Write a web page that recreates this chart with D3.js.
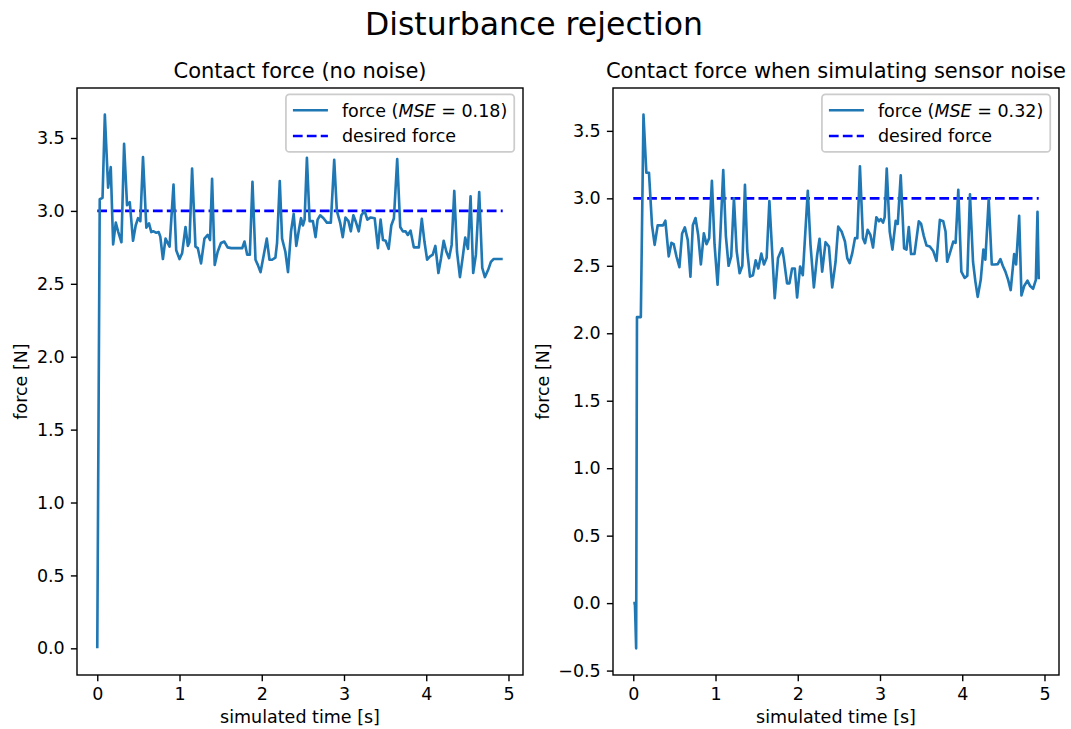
<!DOCTYPE html>
<html>
<head>
<meta charset="utf-8">
<script src="https://cdn.jsdelivr.net/npm/d3@7"></script>
<style>
  body { margin: 0; background: #fff; }
  svg text { font-family: "DejaVu Sans", sans-serif; fill: #000; }
</style>
</head>
<body>
<svg id="chart" width="1071" height="729"></svg>
<script>
// ---- measured contact force, controller without sensor noise ----
const timeNoNoise = [
  0, 0.03, 0.064, 0.092, 0.132, 0.164, 0.193, 0.225, 0.253, 0.294,
  0.326, 0.362, 0.395, 0.435, 0.467, 0.496, 0.524, 0.556, 0.597, 0.629,
  0.657, 0.685, 0.718, 0.746, 0.766, 0.798, 0.83, 0.879, 0.927, 0.96,
  1.0, 1.032, 1.073, 1.101, 1.121, 1.153, 1.194, 1.222, 1.262, 1.303,
  1.343, 1.371, 1.396, 1.428, 1.464, 1.504, 1.545, 1.585, 1.63, 1.763,
  1.79, 1.823, 1.855, 1.887, 1.924, 1.952, 1.985, 2.025, 2.061, 2.094,
  2.126, 2.166, 2.186, 2.219, 2.247, 2.287, 2.319, 2.356, 2.388, 2.42,
  2.449, 2.477, 2.501, 2.521, 2.549, 2.582, 2.622, 2.654, 2.679, 2.711,
  2.751, 2.792, 2.84, 2.881, 2.913, 2.953, 2.985, 3.018, 3.054, 3.083,
  3.114, 3.147, 3.179, 3.211, 3.25, 3.284, 3.325, 3.373, 3.413, 3.445,
  3.474, 3.506, 3.543, 3.575, 3.607, 3.647, 3.684, 3.716, 3.748, 3.776,
  3.809, 3.849, 3.91, 3.946, 3.978, 4.011, 4.043, 4.079, 4.111, 4.148,
  4.18, 4.212, 4.245, 4.277, 4.309, 4.341, 4.374, 4.41, 4.442, 4.474,
  4.507, 4.539, 4.571, 4.604, 4.644, 4.681, 4.713, 4.753, 4.786, 4.818,
  4.866, 4.93
];
const forceNoNoise = [
  0, 3.08, 3.09, 3.66, 3.16, 3.30, 2.77, 2.92, 2.86, 2.785,
  3.46, 3.04, 3.06, 2.795, 2.90, 2.95, 2.93, 3.37, 2.885, 2.915,
  2.855, 2.86, 2.85, 2.855, 2.825, 2.67, 2.81, 2.755, 3.18, 2.73,
  2.67, 2.71, 2.89, 2.76, 2.785, 3.29, 2.755, 2.745, 2.64, 2.81,
  2.835, 2.80, 3.22, 2.63, 2.72, 2.78, 2.79, 2.75, 2.745, 2.745,
  2.79, 2.70, 2.70, 3.20, 2.665, 2.63, 2.58, 2.70, 2.81, 2.665,
  2.665, 2.68, 2.78, 3.205, 2.81, 2.72, 2.58, 2.86, 2.98, 2.76,
  2.86, 2.95, 2.90, 2.94, 3.365, 2.93, 2.93, 2.82, 2.94, 2.97,
  2.95, 2.92, 2.92, 3.35, 3.00, 2.92, 2.82, 2.955, 2.93, 2.86,
  2.97, 2.92, 2.86, 2.97, 3.00, 2.94, 2.955, 2.95, 2.745, 2.94,
  2.80, 2.795, 2.74, 2.90, 2.95, 3.355, 2.89, 2.86, 2.86, 2.835,
  2.865, 2.75, 2.75, 2.945, 2.79, 2.665, 2.687, 2.70, 2.76, 2.574,
  2.676, 2.795, 2.72, 2.676, 2.767, 3.137, 2.72, 2.546, 2.676, 2.817,
  2.74, 3.10, 2.574, 2.70, 3.13, 2.61, 2.546, 2.596, 2.65, 2.67,
  2.67, 2.67
];

// ---- measured contact force, controller with simulated sensor noise ----
const timeSensorNoise = [
  0, 0.02, 0.035, 0.045, 0.092, 0.124, 0.159, 0.191, 0.228, 0.26,
  0.297, 0.33, 0.362, 0.39, 0.431, 0.464, 0.492, 0.525, 0.561, 0.594,
  0.627, 0.663, 0.695, 0.724, 0.757, 0.789, 0.822, 0.858, 0.891, 0.923,
  0.956, 0.988, 1.025, 1.057, 1.094, 1.126, 1.159, 1.191, 1.224, 1.257,
  1.293, 1.326, 1.358, 1.386, 1.419, 1.455, 1.488, 1.52, 1.557, 1.589,
  1.622, 1.655, 1.72, 1.76, 1.81, 1.83, 1.87, 1.899, 1.931, 1.964,
  1.992, 2.029, 2.061, 2.122, 2.155, 2.196, 2.236, 2.265, 2.297, 2.338,
  2.379, 2.419, 2.46, 2.492, 2.533, 2.574, 2.602, 2.631, 2.663, 2.696,
  2.724, 2.756, 2.793, 2.818, 2.85, 2.883, 2.915, 2.956, 2.988, 3.009,
  3.037, 3.057, 3.082, 3.118, 3.151, 3.191, 3.216, 3.252, 3.293, 3.322,
  3.35, 3.378, 3.419, 3.472, 3.5, 3.533, 3.566, 3.606, 3.647, 3.687,
  3.728, 3.769, 3.797, 3.817, 3.858, 3.891, 3.919, 3.952, 3.989, 4.029,
  4.062, 4.094, 4.131, 4.16, 4.188, 4.225, 4.257, 4.281, 4.322, 4.359,
  4.395, 4.432, 4.464, 4.493, 4.525, 4.558, 4.589, 4.631, 4.655, 4.692,
  4.72, 4.753, 4.793, 4.826, 4.862, 4.895, 4.915, 4.93
];
const forceSensorNoise = [
  0, 0, -0.335, 2.12, 2.12, 3.62, 3.19, 3.19, 2.80, 2.655,
  2.80, 2.80, 2.80, 2.834, 2.57, 2.67, 2.66, 2.57, 2.49, 2.74,
  2.785, 2.69, 2.42, 2.80, 2.854, 2.73, 2.51, 2.74, 2.66, 2.705,
  3.13, 2.66, 2.36, 2.705, 3.21, 2.72, 2.50, 2.57, 3.0, 2.61,
  2.445, 2.50, 3.10, 2.61, 2.42, 2.43, 2.54, 2.48, 2.59, 2.51,
  2.56, 2.98, 2.26, 2.557, 2.63, 2.557, 2.37, 2.37, 2.48, 2.48,
  2.265, 2.495, 2.43, 3.056, 2.655, 2.34, 2.58, 2.70, 2.457, 2.675,
  2.643, 2.34, 2.53, 2.79, 2.754, 2.68, 2.557, 2.52, 2.594, 2.705,
  2.705, 3.237, 2.705, 2.668, 2.767, 2.73, 2.635, 2.86, 2.83, 2.846,
  2.82, 2.86, 3.22, 2.754, 2.62, 2.834, 2.81, 3.17, 2.63, 2.62,
  2.787, 2.587, 2.587, 2.83, 2.81, 2.72, 2.65, 2.643, 2.61, 2.537,
  2.84, 2.83, 2.754, 2.53, 2.61, 2.68, 2.67, 3.063, 2.457, 2.41,
  2.427, 3.03, 2.53, 2.383, 2.27, 2.396, 2.62, 2.545, 2.995, 2.51,
  2.51, 2.512, 2.55, 2.50, 2.457, 2.396, 2.32, 2.587, 2.51, 2.87,
  2.28, 2.35, 2.39, 2.35, 2.33, 2.396, 2.90, 2.40
];

const desiredForce = 3.0;
const mseValues = [0.18, 0.32];
const panelTitles = ["Contact force (no noise)", "Contact force when simulating sensor noise"];
const figureTitle = "Disturbance rejection";
const xAxisLabel = "simulated time [s]";
const yAxisLabel = "force [N]";
const legendDesiredLabel = "desired force";
const xTickValues = [0, 1, 2, 3, 4, 5];
const yTicksNoNoise = [0, 0.5, 1, 1.5, 2, 2.5, 3, 3.5];
const yTicksSensorNoise = [-0.5, 0, 0.5, 1, 1.5, 2, 2.5, 3, 3.5];

// ---- layout (1 pt = 1.75 px) ----
const PT = 1.75;
const FS = 10 * PT;          // tick / label / legend font size
const TITLE_FS = 12 * PT;
const SUPTITLE_FS = 18 * PT;
const axTop = 88, axBottom = 675, axWidth = 446;
const forceColor = "#1f77b4";
const desiredColor = "#0000ff";

const svg = d3.select("#chart");
svg.append("rect").attr("width", 1071).attr("height", 729).attr("fill", "#fff");

svg.append("text")
  .attr("x", 534).attr("y", 35)
  .attr("text-anchor", "middle")
  .style("font-size", SUPTITLE_FS + "px")
  .text(figureTitle);

// pad a data extent by 5% on each side, as the plotting defaults do
function padded(extent) {
  const span = extent[1] - extent[0];
  return [extent[0] - 0.05 * span, extent[1] + 0.05 * span];
}

const panels = [
  { left: 77, time: timeNoNoise, force: forceNoNoise, yTicks: yTicksNoNoise,
    title: panelTitles[0], mse: mseValues[0], ylabelOffset: 50 },
  { left: 613, time: timeSensorNoise, force: forceSensorNoise, yTicks: yTicksSensorNoise,
    title: panelTitles[1], mse: mseValues[1], ylabelOffset: 64 }
];

panels.forEach(p => {
  const g = svg.append("g");
  const x = d3.scaleLinear()
    .domain(padded(d3.extent(p.time)))
    .range([p.left, p.left + axWidth]);
  const y = d3.scaleLinear()
    .domain(padded(d3.extent(p.force)))
    .range([axBottom, axTop]);

  const series = p.time.map((t, i) => ({ t, v: p.force[i] }));
  const tEnd = d3.max(p.time);

  // desired force reference
  g.append("path")
    .datum([{ t: 0, v: desiredForce }, { t: tEnd, v: desiredForce }])
    .attr("d", d3.line().x(d => x(d.t)).y(d => y(d.v)))
    .attr("fill", "none")
    .attr("stroke", desiredColor)
    .attr("stroke-width", 1.5 * PT)
    .attr("stroke-dasharray", `${3.7 * 1.5 * PT},${1.6 * 1.5 * PT}`);

  // measured force
  g.append("path")
    .datum(series)
    .attr("d", d3.line().x(d => x(d.t)).y(d => y(d.v)))
    .attr("fill", "none")
    .attr("stroke", forceColor)
    .attr("stroke-width", 1.5 * PT)
    .attr("stroke-linejoin", "round")
    .attr("stroke-linecap", "butt");

  // axes
  const xAxis = d3.axisBottom(x).tickValues(xTickValues).tickFormat(d3.format("d"))
    .tickSize(3.5 * PT).tickPadding(3.5 * PT).tickSizeOuter(0);
  const yAxis = d3.axisLeft(y).tickValues(p.yTicks).tickFormat(d3.format(".1f"))
    .tickSize(3.5 * PT).tickPadding(3.5 * PT).tickSizeOuter(0);

  const gx = g.append("g").attr("transform", `translate(0,${axBottom})`).call(xAxis);
  const gy = g.append("g").attr("transform", `translate(${p.left},0)`).call(yAxis);
  [gx, gy].forEach(a => {
    a.select(".domain").remove();
    a.selectAll(".tick line").attr("stroke", "#000").attr("stroke-width", 0.8 * PT);
    a.selectAll(".tick text")
      .style("font-size", FS + "px")
      .style("font-family", '"DejaVu Sans", sans-serif')
      .attr("fill", "#000");
  });

  // frame
  g.append("rect")
    .attr("x", p.left).attr("y", axTop)
    .attr("width", axWidth).attr("height", axBottom - axTop)
    .attr("fill", "none").attr("stroke", "#000").attr("stroke-width", 0.8 * PT);

  // titles and labels
  const cx = p.left + axWidth / 2;
  g.append("text").attr("x", cx).attr("y", 78)
    .attr("text-anchor", "middle").style("font-size", TITLE_FS + "px").text(p.title);
  g.append("text").attr("x", cx).attr("y", 722.5)
    .attr("text-anchor", "middle").style("font-size", FS + "px").text(xAxisLabel);
  g.append("text")
    .attr("transform", `translate(${p.left - p.ylabelOffset},${(axTop + axBottom) / 2}) rotate(-90)`)
    .attr("text-anchor", "middle").style("font-size", FS + "px").text(yAxisLabel);

  // legend
  const pad = 0.4 * FS, handleLen = 2 * FS, handleGap = 0.8 * FS, rowH = 17.8, rowGap = 0.45 * FS;
  const lg = g.append("g");
  const frame = lg.append("rect");
  const t1 = lg.append("text").style("font-size", FS + "px");
  t1.append("tspan").text("force (");
  t1.append("tspan").style("font-style", "italic").text("MSE");
  t1.append("tspan").text(" = " + p.mse.toFixed(2) + ")");
  const t2 = lg.append("text").style("font-size", FS + "px").text(legendDesiredLabel);
  const textW = Math.max(t1.node().getComputedTextLength(), t2.node().getComputedTextLength());
  const boxW = pad * 2 + handleLen + handleGap + textW;
  const boxH = pad * 2 + rowH * 2 + rowGap;
  const bx = p.left + axWidth - 0.5 * FS - boxW;
  const by = axTop + 6.4;
  frame.attr("x", bx).attr("y", by).attr("width", boxW).attr("height", boxH)
    .attr("rx", 0.2 * FS).attr("fill", "#fff").attr("fill-opacity", 0.8)
    .attr("stroke", "#cccccc").attr("stroke-width", 1 * PT);
  const r1 = by + pad + rowH / 2;
  const r2 = r1 + rowH + rowGap;
  const hx = bx + pad;
  lg.append("line").attr("x1", hx).attr("x2", hx + handleLen).attr("y1", r1).attr("y2", r1)
    .attr("stroke", forceColor).attr("stroke-width", 1.5 * PT);
  lg.append("line").attr("x1", hx).attr("x2", hx + handleLen).attr("y1", r2).attr("y2", r2)
    .attr("stroke", desiredColor).attr("stroke-width", 1.5 * PT)
    .attr("stroke-dasharray", `${3.7 * 1.5 * PT},${1.6 * 1.5 * PT}`);
  t1.attr("x", hx + handleLen + handleGap).attr("y", r1 + 0.36 * FS);
  t2.attr("x", hx + handleLen + handleGap).attr("y", r2 + 0.36 * FS);
});
</script>
</body>
</html>
